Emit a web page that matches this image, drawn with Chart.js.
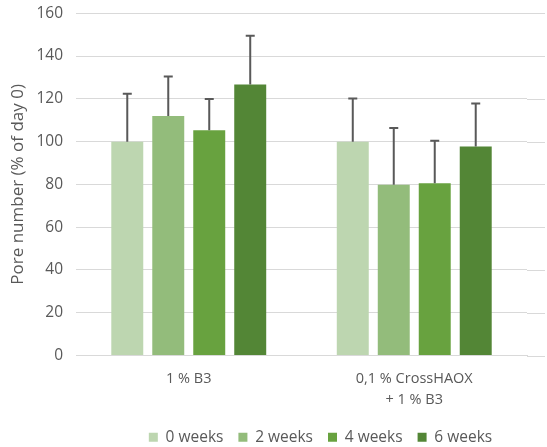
<!DOCTYPE html>
<html>
<head>
<meta charset="utf-8">
<script src="https://cdn.jsdelivr.net/npm/chart.js@4"></script>
<style>
  html, body { margin: 0; padding: 0; background: #fff; }
  #wrap { width: 547px; height: 447px; position: relative; }
</style>
</head>
<body>
<div id="wrap"><canvas id="chart"></canvas></div>
<script>
// data
const categories = ["1 % B3", ["0,1 % CrossHAOX", "+ 1 % B3"]];
const seriesNames = ["0 weeks", "2 weeks", "4 weeks", "6 weeks"];
const week0 = [100, 100];
const week2 = [112, 79.8];
const week4 = [105.3, 80.5];
const week6 = [126.7, 97.7];
const err0 = [22.4, 20.2];
const err2 = [18.5, 26.6];
const err4 = [14.6, 19.9];
const err6 = [22.8, 20.1];
const yTicks = [0, 20, 40, 60, 80, 100, 120, 140, 160];

const colors = ["#BDD6B0", "#93BC7B", "#68A23F", "#538636"];
const values = [week0, week2, week4, week6];
const errors = [err0, err2, err4, err6];
const textColor = "#595959";
const gridColor = "#d9d9d9";
const FONT = "'Open Sans', sans-serif";

// upward error bars, drawn from the bar tops
const errorBars = {
  id: "errorBars",
  afterDatasetsDraw(chart) {
    const { ctx } = chart, y = chart.scales.y;
    ctx.save();
    ctx.strokeStyle = textColor;
    ctx.lineWidth = 2;
    errors.forEach((errs, i) => {
      chart.getDatasetMeta(i).data.forEach((bar, j) => {
        const top = y.getPixelForValue(values[i][j] + errs[j]);
        ctx.beginPath();
        ctx.moveTo(bar.x, bar.y);
        ctx.lineTo(bar.x, top);
        ctx.moveTo(bar.x - 4.5, top);
        ctx.lineTo(bar.x + 4.5, top);
        ctx.stroke();
      });
    });
    ctx.restore();
  }
};

// Excel gridlines run past the last category to the edge
const gridTail = {
  id: "gridTail",
  beforeDatasetsDraw(chart) {
    const { ctx, chartArea } = chart, y = chart.scales.y;
    ctx.save();
    ctx.strokeStyle = gridColor;
    ctx.lineWidth = 1;
    y.ticks.forEach(t => {
      const py = Math.round(y.getPixelForValue(t.value)) + 0.5;
      ctx.beginPath();
      ctx.moveTo(chartArea.right, py);
      ctx.lineTo(545, py);
      ctx.stroke();
    });
    ctx.restore();
  }
};

// nudge the legend to sit where the reference has it
const legendShift = {
  id: "legendShift",
  afterLayout(chart) {
    const lg = chart.legend;
    if (lg) { lg.left += 19; lg.right += 19; lg.top += 8; lg.bottom += 8; }
  }
};

new Chart(document.getElementById("chart"), {
  type: "bar",
  data: {
    labels: categories,
    datasets: seriesNames.map((name, i) => ({
      label: name,
      data: values[i],
      backgroundColor: colors[i],
      borderWidth: 0,
      categoryPercentage: 0.727,
      barPercentage: 0.78
    }))
  },
  options: {
    responsive: true,
    maintainAspectRatio: false,
    animation: false,
    layout: { padding: { top: 1, right: 20, bottom: 0, left: 0 } },
    plugins: {
      tooltip: { enabled: false },
      legend: {
        position: "bottom",
        fullSize: false,
        labels: {
          boxWidth: 9, boxHeight: 9, padding: 15,
          color: textColor, font: { family: FONT, size: 15.5 }
        }
      }
    },
    scales: {
      x: {
        grid: { display: false, drawTicks: false },
        border: { color: gridColor },
        afterFit: s => { s.height = 51; },
        ticks: { color: textColor, font: { family: FONT, size: 14.5, lineHeight: 1.5 }, padding: 12, maxRotation: 0 }
      },
      y: {
        min: 0, max: 160,
        afterBuildTicks: s => { s.ticks = yTicks.map(v => ({ value: v })); },
        afterFit: s => { s.width = 76; },
        grid: { color: gridColor, drawTicks: true, tickLength: 9, tickColor: "rgba(0,0,0,0)" },
        border: { display: false },
        ticks: { color: textColor, font: { family: FONT, size: 15.5 }, padding: 4 },
        title: { display: true, text: "Pore number (% of day 0)", color: textColor,
                 font: { family: FONT, size: 17 }, padding: { top: 8, bottom: 0 } }
      }
    }
  },
  plugins: [errorBars, gridTail, legendShift]
});
</script>
</body>
</html>
